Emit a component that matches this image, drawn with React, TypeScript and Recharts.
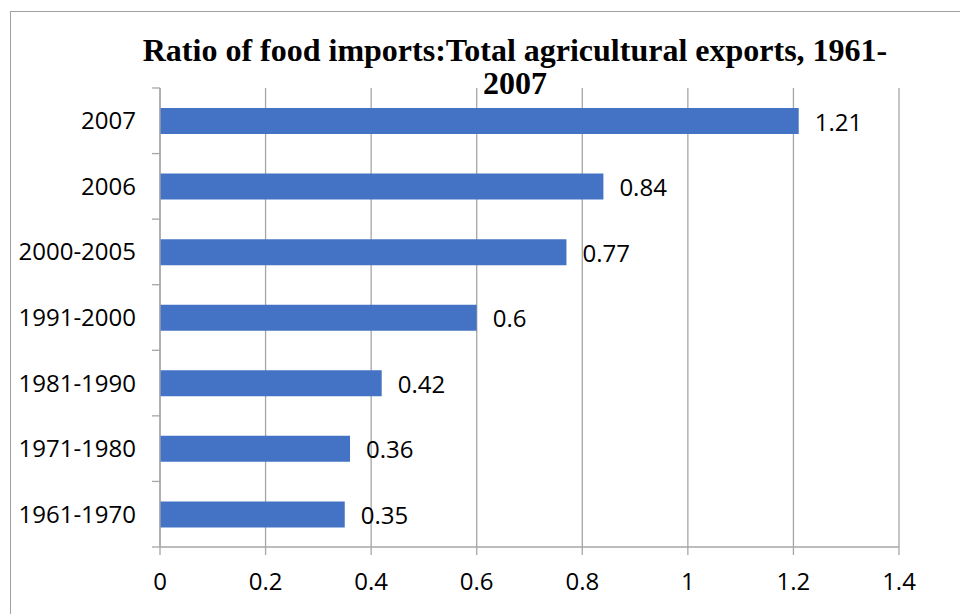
import React from 'react';
import { BarChart, Bar, XAxis, YAxis, CartesianGrid, LabelList } from 'recharts';

const categories = ['2007', '2006', '2000-2005', '1991-2000', '1981-1990', '1971-1980', '1961-1970'];
const ratios = [1.21, 0.84, 0.77, 0.6, 0.42, 0.36, 0.35];
const xTicks = [0, 0.2, 0.4, 0.6, 0.8, 1, 1.2, 1.4];
const titleLines = ['Ratio of food imports:Total agricultural exports, 1961-', '2007'];

const data = categories.map((c, i) => ({ name: c, value: ratios[i] }));

const GRID = '#a6a6a6';
const FONT = '"Open Sans", sans-serif';
const TICK_SIZE = 8;
const TICK_MARGIN = 16;

function CatTick(props: any) {
  const { x, y, payload, height, visibleTicksCount, index } = props;
  const half = height / visibleTicksCount / 2;
  const axisX = x + TICK_SIZE + TICK_MARGIN;
  return (
    <g>
      <line x1={axisX - TICK_SIZE} x2={axisX} y1={y - half} y2={y - half} stroke={GRID} strokeWidth={1.3} />
      {index === visibleTicksCount - 1 && (
        <line x1={axisX - TICK_SIZE} x2={axisX} y1={y + half} y2={y + half} stroke={GRID} strokeWidth={1.3} />
      )}
      <text x={x} y={y} dy="0.355em" textAnchor="end" fill="#000" fontSize={24} fontFamily={FONT}>
        {payload.value}
      </text>
    </g>
  );
}

export default function App() {
  return (
    <div style={{ position: 'absolute', left: 0, top: 0, width: 960, height: 614, overflow: 'hidden', background: '#fff' }}>
      <div style={{ position: 'absolute', left: 10, top: 11, width: 1100, height: 800, border: '1px solid #a0a0a0', boxSizing: 'border-box' }} />
      <div style={{ position: 'absolute', left: 0, top: 0 }}>
        <BarChart
          width={960}
          height={614}
          data={data}
          layout="vertical"
          margin={{ top: 88, right: 61, bottom: 0, left: 0 }}
          barSize={26}
        >
          <CartesianGrid horizontal={false} vertical={true} stroke={GRID} strokeWidth={1.3} />
          <XAxis
            type="number"
            domain={[0, 1.4]}
            ticks={xTicks}
            height={67}
            tickSize={8}
            tickMargin={18}
            axisLine={{ stroke: GRID, strokeWidth: 1.3 }}
            tickLine={{ stroke: GRID, strokeWidth: 1.3 }}
            tick={{ fill: '#000', fontSize: 24, fontFamily: FONT }}
            tickFormatter={(v: number) => String(v)}
          />
          <YAxis
            type="category"
            dataKey="name"
            width={160}
            axisLine={{ stroke: GRID, strokeWidth: 1.3 }}
            tickLine={false}
            tickSize={TICK_SIZE}
            tickMargin={TICK_MARGIN}
            interval={0}
            tick={(p: any) => <CatTick {...p} />}
          />
          <Bar dataKey="value" fill="#4472C4" isAnimationActive={false}>
            <LabelList
              dataKey="value"
              position="right"
              offset={16}
              style={{ fill: '#000', fontSize: 24, fontFamily: FONT }}
              dy={1}
            />
          </Bar>
        </BarChart>
      </div>
      <div
        style={{
          position: 'absolute',
          left: 115,
          width: 800,
          top: 34,
          textAlign: 'center',
          fontFamily: '"Liberation Serif", serif',
          fontWeight: 'bold',
          fontSize: 32,
          lineHeight: '33px',
          color: '#000',
        }}
      >
        {titleLines.map((l, i) => (
          <div key={i}>{l}</div>
        ))}
      </div>
    </div>
  );
}
